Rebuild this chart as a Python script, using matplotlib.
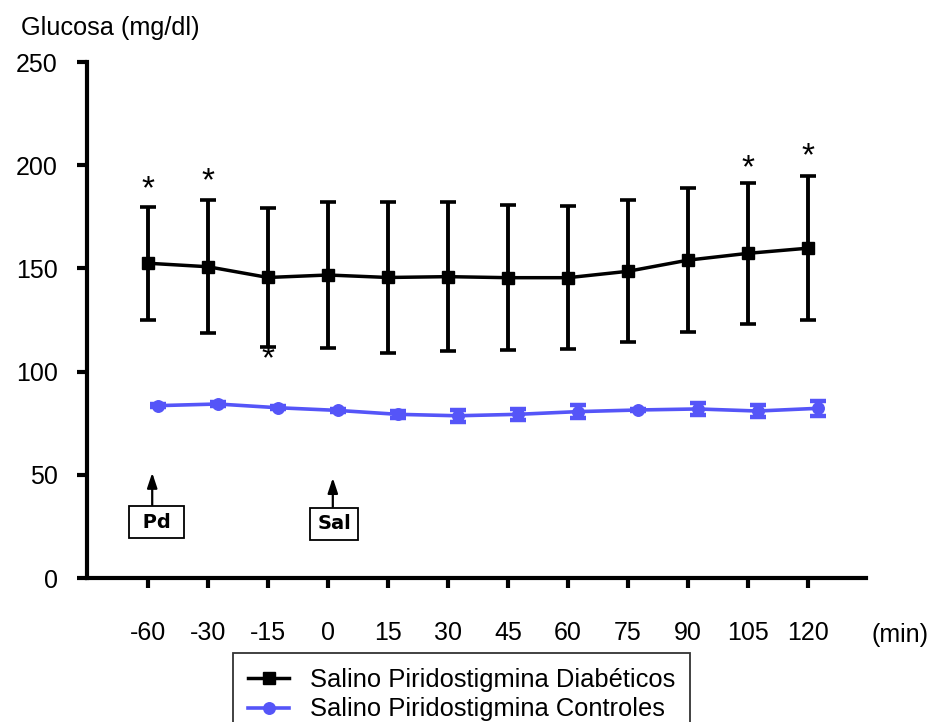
import matplotlib
matplotlib.use('Agg')
import matplotlib.pyplot as plt
import numpy as np

plt.rcParams['font.family'] = ['Liberation Sans', 'DejaVu Sans']

# time points (min) and glucose values (mg/dl)
times = ['-60', '-30', '-15', '0', '15', '30', '45', '60', '75', '90', '105', '120']
diab_mean = [152.5, 150.8, 145.6, 146.8, 145.6, 146.0, 145.5, 145.5, 148.6, 154.0, 157.3, 159.8]
diab_err = [27.3, 32.2, 33.7, 35.4, 36.6, 36.0, 35.0, 34.5, 34.5, 35.0, 34.0, 35.0]
ctrl_mean = [83.5, 84.3, 82.5, 81.2, 79.3, 78.6, 79.3, 80.6, 81.4, 81.9, 80.9, 82.2]
ctrl_err = [0.8, 0.8, 0.8, 0.8, 1.8, 3.0, 2.6, 3.0, 0.5, 3.0, 3.0, 3.5]

# significance marks: index of time point and height
star_idx = [0, 1, 2, 10, 11]
star_val = [193, 197, 111, 203.5, 209]

label_diab = 'Salino Piridostigmina Diabéticos'
label_ctrl = 'Salino Piridostigmina Controles'
blue = '#5555f8'

fig = plt.figure(figsize=(9.29, 7.22), dpi=100)
ax = fig.add_axes([87 / 929, 1 - 578 / 722, (866 - 87) / 929, (578 - 62) / 722])

x = np.arange(len(times))
xc = x + 0.16  # controls are drawn slightly to the right

ax.errorbar(xc, ctrl_mean, yerr=ctrl_err, fmt='none', ecolor=blue,
            elinewidth=2.6, capsize=6, capthick=3.2, zorder=2)
l_ctrl, = ax.plot(xc, ctrl_mean, color=blue, lw=2.6, marker='o', ms=8.3,
                  label=label_ctrl, zorder=3)

ax.errorbar(x, diab_mean, yerr=diab_err, fmt='none', ecolor='black',
            elinewidth=2.8, capsize=6, capthick=2.6, zorder=4)
l_diab, = ax.plot(x, diab_mean, color='black', lw=2.5, marker='s', ms=8.5,
                  label=label_diab, zorder=5)

for i, v in zip(star_idx, star_val):
    ax.annotate('*', xy=(i, v), xytext=(0, -13.7), textcoords='offset points',
                ha='center', va='baseline', fontsize=24)

# injection markers
for txt, bx, by, ax_x, top in [(' Pd ', 0.14, 27.1, 0.07, 51), ('Sal', 3.1, 26.2, 3.08, 48.5)]:
    ax.text(bx, by, txt, ha='center', va='center', fontsize=14, fontweight='bold',
            family='DejaVu Sans',
            bbox=dict(boxstyle='square,pad=0.35', fc='white', ec='black', lw=1.3))
    ax.annotate('', xy=(ax_x, top), xytext=(ax_x, by + 8.3),
                arrowprops=dict(arrowstyle='-|>,head_length=0.9,head_width=0.3',
                                lw=1.6, color='black', shrinkA=0, shrinkB=0))

ax.set_xlim(-1.017, 11.967)
ax.set_ylim(0, 250)
ax.set_xticks(x)
ax.set_xticklabels(times)
ax.set_yticks([0, 50, 100, 150, 200, 250])

for s in ['top', 'right']:
    ax.spines[s].set_visible(False)
for s in ['left', 'bottom']:
    ax.spines[s].set_linewidth(3)
ax.tick_params(axis='y', direction='out', length=7, width=3, labelsize=18, pad=14)
ax.tick_params(axis='x', direction='out', length=7, width=3, labelsize=18, pad=24)

fig.text(21 / 929, 1 - 35 / 722, 'Glucosa (mg/dl)', fontsize=18.2, ha='left', va='baseline')
fig.text(872 / 929, 1 - 642 / 722, '(min)', fontsize=18, ha='left', va='baseline')

leg = fig.legend(handles=[l_diab, l_ctrl], loc='upper left',
                 bbox_to_anchor=(233 / 929, 1 - 653 / 722), bbox_transform=fig.transFigure,
                 borderaxespad=0, fontsize=18.4, frameon=True, fancybox=False,
                 edgecolor='black', handlelength=1.6, handletextpad=0.8,
                 borderpad=0.6, labelspacing=0.2)
leg.get_frame().set_linewidth(1.3)

fig.savefig('out.png', dpi=100)
